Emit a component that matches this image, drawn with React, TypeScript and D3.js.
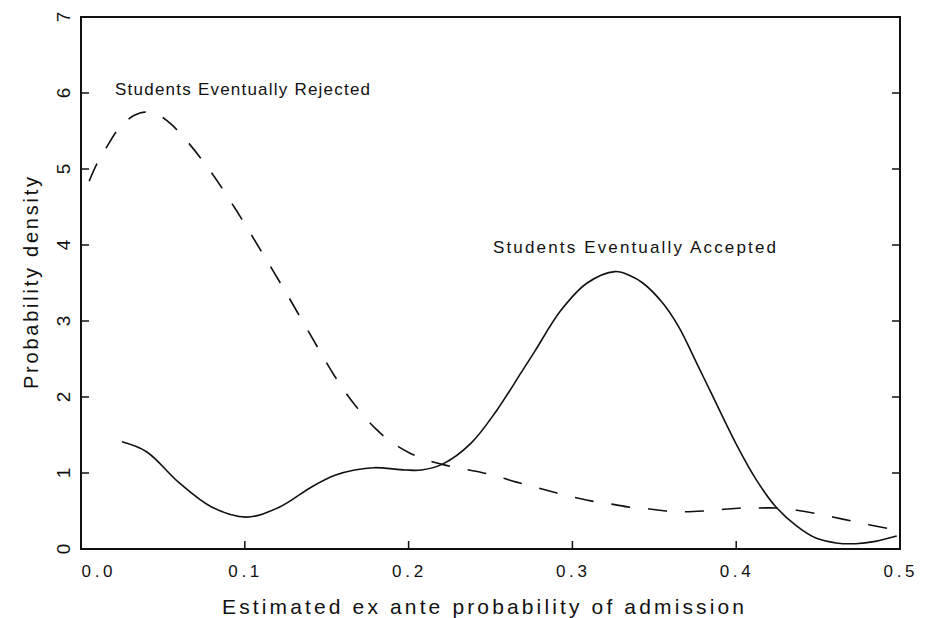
import React, { useEffect, useRef } from 'react';
import * as d3 from 'd3';

// density of estimated ex ante admission probability
const rejectedX = [
  0.005, 0.01, 0.016, 0.023, 0.032, 0.04, 0.048, 0.055, 0.065, 0.08, 0.095, 0.11, 0.125,
  0.14, 0.155, 0.167, 0.18, 0.19, 0.2, 0.21, 0.221, 0.232, 0.244, 0.255, 0.266, 0.278,
  0.29, 0.301, 0.312, 0.324, 0.335, 0.346, 0.357, 0.368, 0.38, 0.391, 0.403, 0.414, 0.424,
  0.437, 0.448, 0.459, 0.47, 0.481, 0.493, 0.5,
];
const rejectedY = [
  4.84, 5.08, 5.3, 5.53, 5.7, 5.75, 5.7, 5.59, 5.36, 4.94, 4.45, 3.92, 3.38,
  2.82, 2.27, 1.9, 1.58, 1.4, 1.27, 1.18, 1.11, 1.06, 1.01, 0.95, 0.88, 0.81,
  0.74, 0.68, 0.63, 0.59, 0.55, 0.53, 0.5, 0.49, 0.5, 0.52, 0.54, 0.54, 0.54,
  0.51, 0.47, 0.42, 0.37, 0.32, 0.27, 0.24,
];

const acceptedX = [
  0.025, 0.04, 0.06, 0.08, 0.101, 0.121, 0.141, 0.155, 0.167, 0.179, 0.198, 0.208, 0.221,
  0.238, 0.254, 0.269, 0.277, 0.293, 0.309, 0.326, 0.335, 0.343, 0.355, 0.365, 0.376,
  0.385, 0.4, 0.412, 0.424, 0.437, 0.449, 0.461, 0.473, 0.485, 0.498,
];
const acceptedY = [
  1.41, 1.28, 0.87, 0.55, 0.42, 0.55, 0.82, 0.97, 1.04, 1.07, 1.04, 1.04, 1.12,
  1.39, 1.83, 2.33, 2.6, 3.14, 3.5, 3.65, 3.6, 3.5, 3.24, 2.92, 2.44,
  2.04, 1.38, 0.92, 0.56, 0.3, 0.14, 0.08, 0.07, 0.1, 0.17,
];

const xTicks = [0, 0.1, 0.2, 0.3, 0.4, 0.5];
const xTickLabels = ['0.0', '0.1', '0.2', '0.3', '0.4', '0.5'];
const yTicks = [0, 1, 2, 3, 4, 5, 6, 7];

const FONT = '"Liberation Sans", Arial, sans-serif';

const App = () => {
  const ref = useRef<SVGSVGElement>(null);

  useEffect(() => {
    const svg = d3.select(ref.current);
    svg.selectAll('*').remove();

    const x = d3.scaleLinear().domain([0, 0.5]).range([81, 900]);
    const y = d3.scaleLinear().domain([0, 7]).range([549, 17]);

    const line = d3
      .line<[number, number]>()
      .x((d) => x(d[0]))
      .y((d) => y(d[1]))
      .curve(d3.curveCatmullRom.alpha(0.5));

    // curves
    svg
      .append('path')
      .attr('d', line(rejectedX.map((v, i) => [v, rejectedY[i]])))
      .attr('fill', 'none')
      .attr('stroke', '#111')
      .attr('stroke-width', 1.6)
      .attr('stroke-dasharray', '19 18');

    svg
      .append('path')
      .attr('d', line(acceptedX.map((v, i) => [v, acceptedY[i]])))
      .attr('fill', 'none')
      .attr('stroke', '#111')
      .attr('stroke-width', 1.6);

    // frame
    svg
      .append('rect')
      .attr('x', x(0))
      .attr('y', y(7))
      .attr('width', x(0.5) - x(0))
      .attr('height', y(0) - y(7))
      .attr('fill', 'none')
      .attr('stroke', '#111')
      .attr('stroke-width', 2);

    // inward ticks, left and right
    yTicks.forEach((t) => {
      svg.append('line').attr('x1', x(0)).attr('x2', x(0) + 8).attr('y1', y(t)).attr('y2', y(t))
        .attr('stroke', '#111').attr('stroke-width', 1.5);
      svg.append('line').attr('x1', x(0.5)).attr('x2', x(0.5) - 8).attr('y1', y(t)).attr('y2', y(t))
        .attr('stroke', '#111').attr('stroke-width', 1.5);
      svg
        .append('text')
        .attr('transform', `translate(70,${y(t)}) rotate(-90)`)
        .attr('text-anchor', 'middle')
        .attr('font-family', FONT)
        .attr('font-size', 19)
        .attr('fill', '#111')
        .text(String(t));
    });

    xTicks.forEach((t, i) => {
      if (t > 0 && t < 0.5) {
        svg.append('line').attr('x1', x(t)).attr('x2', x(t)).attr('y1', y(0)).attr('y2', y(0) - 8)
          .attr('stroke', '#111').attr('stroke-width', 1.5);
      }
      svg
        .append('text')
        .attr('x', t === 0 ? x(t) + 16 : x(t) - 1)
        .attr('y', 577)
        .attr('text-anchor', 'middle')
        .attr('font-family', FONT)
        .attr('font-size', 17)
        .attr('textLength', 31)
        .attr('lengthAdjust', 'spacing')
        .attr('fill', '#111')
        .text(xTickLabels[i]);
    });

    // axis titles
    svg
      .append('text')
      .attr('x', 222)
      .attr('y', 614)
      .attr('font-family', FONT)
      .attr('font-size', 21)
      .attr('textLength', 522)
      .attr('lengthAdjust', 'spacing')
      .attr('fill', '#111')
      .text('Estimated ex ante probability of admission');

    svg
      .append('text')
      .attr('transform', 'translate(38,389) rotate(-90)')
      .attr('font-family', FONT)
      .attr('font-size', 20)
      .attr('textLength', 212)
      .attr('lengthAdjust', 'spacing')
      .attr('fill', '#111')
      .text('Probability density');

    // curve annotations
    svg
      .append('text')
      .attr('x', x(0.0208))
      .attr('y', y(5.97))
      .attr('font-family', FONT)
      .attr('font-size', 17)
      .attr('textLength', 255)
      .attr('lengthAdjust', 'spacing')
      .attr('fill', '#111')
      .text('Students Eventually Rejected');

    svg
      .append('text')
      .attr('x', x(0.2515))
      .attr('y', y(3.9))
      .attr('font-family', FONT)
      .attr('font-size', 17)
      .attr('textLength', 283)
      .attr('lengthAdjust', 'spacing')
      .attr('fill', '#111')
      .text('Students Eventually Accepted');
  }, []);

  return (
    <svg
      ref={ref}
      width={925}
      height={618}
      style={{ position: 'absolute', left: 0, top: 0, background: '#fff' }}
    />
  );
};

export default App;
